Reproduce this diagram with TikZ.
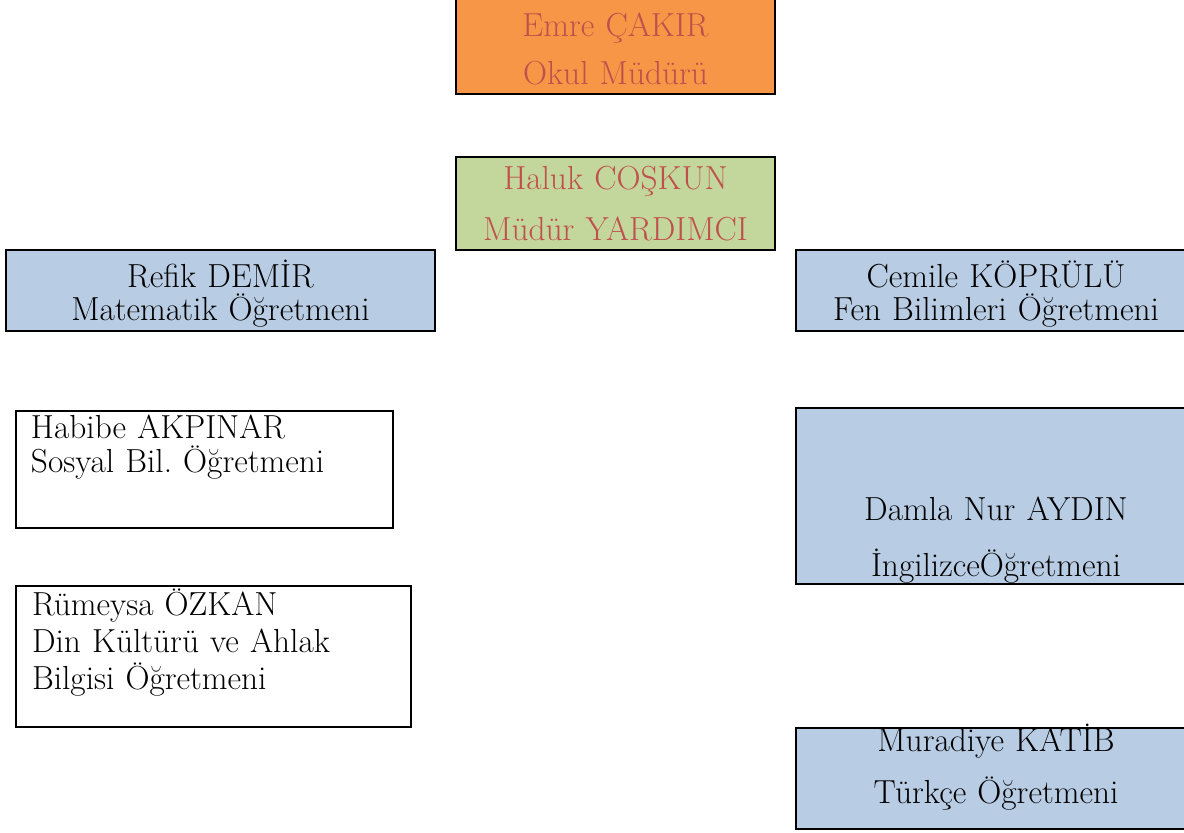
\documentclass[tikz,border=0pt]{standalone}
\usepackage{fontspec}
\frenchspacing
\definecolor{mudurorange}{HTML}{F79646}
\definecolor{yardimcigreen}{HTML}{C3D69B}
\definecolor{ogretmenblue}{HTML}{B8CCE4}
\definecolor{unvanred}{HTML}{C0504D}
\begin{document}
\begin{tikzpicture}[x=0.75pt,y=-0.75pt,
    box node/.style={rectangle,draw,line width=1.5pt,inner sep=0pt,anchor=north west,align=center},
    satir/.style={font=\fontsize{25pt}{#1}\selectfont},
    mudur node/.style={box node,fill=mudurorange,text=unvanred,text width=239.25pt},
    yardimci node/.style={box node,fill=yardimcigreen,text=unvanred,text width=239.25pt},
    ogretmen node/.style={box node,fill=ogretmenblue,text width=300pt},
    sol node/.style={box node,fill=white,align=left,inner ysep=0pt}]
                \useasboundingbox (0,0) rectangle (1184,832);

                \node[mudur node,satir=36pt,text height=30pt,text depth=43.5pt] at (455,-5) (emre) {Emre ÇAKIR\\Okul Müdürü};
                \node[yardimci node,satir=38.25pt,text height=24pt,text depth=45.75pt] at (455,156) (haluk) {Haluk COŞKUN\\Müdür YARDIMCI};

                \node[ogretmen node,satir=24.75pt,text width=321.75pt,text height=27.75pt,text depth=33pt] at (5,249) (refik) {Refik DEMİR\\Matematik Öğretmeni};
                \node[ogretmen node,satir=24.75pt,text height=27.75pt,text depth=33pt] at (795,249) (cemile) {Cemile KÖPRÜLÜ\\Fen Bilimleri Öğretmeni};

                \node[sol node,satir=25.5pt,inner xsep=11.25pt,text width=260.25pt,text height=20.25pt,text depth=67.5pt] at (15,410) (habibe) {Habibe AKPINAR\\Sosyal Bil. Öğretmeni};
                \node[ogretmen node,satir=42pt,text height=84pt,text depth=48pt] at (795,407) (damla) {Damla Nur AYDIN\\İngilizceÖğretmeni};

                \node[sol node,satir=27.75pt,inner xsep=12pt,text width=272.25pt,text height=21.75pt,text depth=84pt] at (15,585) (rumeysa) {Rümeysa ÖZKAN\\Din Kültürü ve Ahlak\\Bilgisi Öğretmeni};
                \node[ogretmen node,satir=39pt,text height=17.25pt,text depth=58.5pt] at (795,727) (muradiye) {Muradiye KATİB\\Türkçe Öğretmeni};
\end{tikzpicture}
\end{document}
